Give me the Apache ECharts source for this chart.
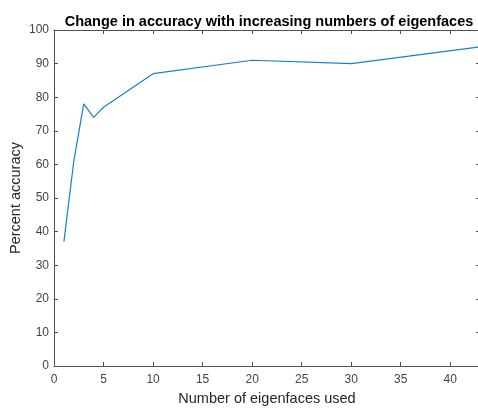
<!DOCTYPE html>
<html>
<head>
<meta charset="utf-8">
<script src="https://cdn.jsdelivr.net/npm/echarts@6/dist/echarts.min.js"></script>
<style>html,body{margin:0;padding:0;background:#fff}#c{width:478px;height:408px}</style>
</head>
<body>
<div id="c"></div>
<script>
const eigenfaces = [1, 2, 3, 4, 5, 10, 20, 30, 43];
const accuracy = [37, 61, 78, 74, 77, 87, 91, 90, 95];
const titleText = 'Change in accuracy with increasing numbers of eigenfaces';
const xLabel = 'Number of eigenfaces used';
const yLabel = 'Percent accuracy';

const axisColor = '#505050';
const font = '"Liberation Sans", Arial, sans-serif';
const chart = echarts.init(document.getElementById('c'), null, {renderer: 'canvas'});
const common = {
  axisLine: {show: true, onZero: false, lineStyle: {color: axisColor, width: 1}},
  axisTick: {show: true, inside: true, length: 4, lineStyle: {color: axisColor}},
  splitLine: {show: false},
  axisLabel: {color: '#444444', fontFamily: font, fontSize: 12}
};
chart.setOption({
  animation: false,
  title: {
    text: titleText, left: 264, textAlign: 'center', top: 9,
    textStyle: {fontFamily: font, fontSize: 14.5, fontWeight: 'bold', color: '#000'}
  },
  grid: {left: 54, right: -2, top: 30, bottom: 42, containLabel: false, outerBoundsMode: 'none'},
  xAxis: [
    Object.assign({}, common, {type: 'value', min: 0, max: 43, interval: 5, position: 'bottom',
      name: xLabel, nameLocation: 'middle', nameGap: 25, nameMoveOverlap: false,
      nameTextStyle: {fontFamily: font, fontSize: 14.5, color: '#262626'},
      axisLabel: Object.assign({}, common.axisLabel, {margin: 8, showMaxLabel: false})}),
    Object.assign({}, common, {type: 'value', min: 0, max: 43, interval: 5, position: 'top',
      axisLabel: {show: false}})
  ],
  yAxis: [
    Object.assign({}, common, {type: 'value', min: 0, max: 100, interval: 10, position: 'left',
      name: yLabel, nameLocation: 'middle', nameGap: 31, nameMoveOverlap: false,
      nameTextStyle: {fontFamily: font, fontSize: 14.5, color: '#262626'},
      axisLabel: Object.assign({}, common.axisLabel, {margin: 5})}),
    Object.assign({}, common, {type: 'value', min: 0, max: 100, interval: 10, position: 'right',
      axisLabel: {show: false}})
  ],
  series: [{
    type: 'line',
    data: eigenfaces.map((x, i) => [x, accuracy[i]]),
    showSymbol: false,
    lineStyle: {color: '#1a7fc8', width: 1.2},
    itemStyle: {color: '#1a7fc8'}
  }]
});
</script>
</body>
</html>
